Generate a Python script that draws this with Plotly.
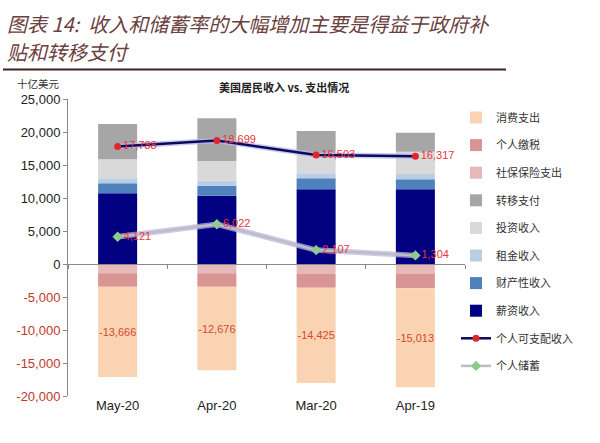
import plotly.graph_objects as go

# ---------------- data ----------------
categories = ["May-20", "Apr-20", "Mar-20", "Apr-19"]
wages = [10710, 10350, 11320, 11320]            # 薪资收入
property_income = [1520, 1510, 1670, 1510]      # 财产性收入
rent_income = [750, 760, 750, 800]              # 租金收入
investment_income = [2880, 2980, 3030, 3390]    # 投资收入
transfers = [5350, 6470, 3380, 2880]            # 转移支付
social_ins = [-1420, -1420, -1510, -1500]       # 社保保险支出
taxes = [-2020, -2020, -2080, -2170]            # 个人缴税
consumption = [-13666, -12676, -14425, -15013]  # 消费支出
disposable = [17788, 18699, 16503, 16317]       # 个人可支配收入
savings = [4121, 6022, 2107, 1304]              # 个人储蓄

ytick_vals = [-20000, -15000, -10000, -5000, 0, 5000, 10000, 15000, 20000, 25000]
ytick_text = ["-20,000", "-15,000", "-10,000", "-5,000", "0",
              "5,000", "10,000", "15,000", "20,000", "25,000"]

# ---------------- layout geometry (pixels) ----------------
W, H = 600, 443
L, R, T, B = 68, 465, 99, 396
def px(x):
    return (x - L) / (R - L)
def py(y):
    return (B - y) / (B - T)

CJK = "Noto Sans CJK SC"
ARIAL = "Liberation Sans, Arial"

fig = go.Figure()

bars = [
    ("薪资收入", wages, "#000080", 8),
    ("财产性收入", property_income, "#4F81BD", 7),
    ("租金收入", rent_income, "#B9CDE5", 6),
    ("投资收入", investment_income, "#D9D9D9", 5),
    ("转移支付", transfers, "#A6A6A6", 4),
    ("社保保险支出", social_ins, "#E6B9B8", 3),
    ("个人缴税", taxes, "#D99594", 2),
]
for name, vals, col, rank in bars:
    fig.add_trace(go.Bar(x=categories, y=vals, name=name, marker_color=col,
                         marker_line_width=0, legendrank=rank, legendgroup=name))

fig.add_trace(go.Bar(
    x=categories, y=consumption, name="消费支出", marker_color="#FAD3B3",
    marker_line_width=0, legendrank=1, legendgroup="消费支出",
    text=[f"{v:,}" for v in consumption], textposition="inside",
    insidetextanchor="middle", textangle=0, constraintext="none",
    textfont=dict(family=ARIAL, size=11, color="#D5492F")))

# soft glow under the lines
for vals in (disposable, savings):
    fig.add_trace(go.Scatter(x=categories, y=vals, mode="lines", showlegend=False,
                             hoverinfo="skip",
                             line=dict(color="rgba(190,180,235,0.75)", width=5.5)))

fig.add_trace(go.Scatter(
    x=categories, y=disposable, name="个人可支配收入", mode="lines+markers+text",
    line=dict(color="#0A0A5C", width=2.5),
    marker=dict(color="#E0262A", size=7, symbol="circle"),
    text=[f"{v:,}" for v in disposable], textposition="middle right",
    textfont=dict(family=ARIAL, size=11, color="#E8363A"),
    legendrank=9, legendgroup="dpi"))

fig.add_trace(go.Scatter(
    x=categories, y=savings, name="个人储蓄", mode="lines+markers+text",
    line=dict(color="#BEBEBE", width=2.5),
    marker=dict(color="#8CCB8C", size=8, symbol="diamond"),
    text=[f"{v:,}" for v in savings], textposition="middle right",
    textfont=dict(family=ARIAL, size=11, color="#E8363A"),
    legendrank=10, legendgroup="sav"))

fig.update_layout(
    width=W, height=H,
    margin=dict(l=L, r=W - R, t=T, b=H - B),
    paper_bgcolor="white", plot_bgcolor="white",
    barmode="relative", bargap=0.607,
    showlegend=True,
    legend=dict(x=px(456), y=py(103), xanchor="left", yanchor="top",
                font=dict(family=CJK, size=11, color="#333333"),
                traceorder="grouped", tracegroupgap=8.6,
                bgcolor="rgba(0,0,0,0)"),
    xaxis=dict(type="category", range=[-0.5, 3.5], showline=False, ticks="",
               showgrid=False, tickfont=dict(family=ARIAL, size=13, color="#222222")),
    xaxis2=dict(type="linear", overlaying="x", anchor="free", position=py(264),
                range=[-0.5, 3.5], tickvals=[-0.5, 0.5, 1.5, 2.5, 3.5],
                showticklabels=False, ticks="outside", ticklen=4, tickcolor="#888888",
                showline=True, linecolor="#888888", linewidth=1, showgrid=False,
                zeroline=False),
    yaxis=dict(range=[-20000, 25000], tickvals=ytick_vals,
               ticktext=[f"<span style='color:#C0392B'>{t}</span>" if v < 0 else t
                         for v, t in zip(ytick_vals, ytick_text)],
               showline=True, linecolor="#888888", linewidth=1,
               ticks="outside", ticklen=4, tickcolor="#888888",
               showgrid=False, zeroline=False,
               tickfont=dict(family=ARIAL, size=13, color="#222222")),
)

# dummy trace on xaxis2 so the overlay axis is drawn
fig.add_trace(go.Scatter(x=[0], y=[None], xaxis="x2", showlegend=False,
                         hoverinfo="skip", mode="markers"))

# title lines
fig.add_annotation(text="图表 14:  收入和储蓄率的大幅增加主要是得益于政府补",
                   x=px(5), y=py(23), xref="paper", yref="paper",
                   xanchor="left", yanchor="middle", showarrow=False,
                   font=dict(family=CJK, size=20, color="#6B4040", style="italic"))
fig.add_annotation(text="贴和转移支付",
                   x=px(5), y=py(51), xref="paper", yref="paper",
                   xanchor="left", yanchor="middle", showarrow=False,
                   font=dict(family=CJK, size=20, color="#6B4040", style="italic"))
fig.add_shape(type="line", xref="paper", yref="paper",
              x0=px(3), x1=px(506), y0=py(69.5), y1=py(69.5),
              line=dict(color="#3E2222", width=2))

fig.add_annotation(text="十亿美元", x=px(15), y=py(83), xref="paper", yref="paper",
                   xanchor="left", yanchor="middle", showarrow=False,
                   font=dict(family=CJK, size=10.5, color="#333333"))
fig.add_annotation(text="<b>美国居民收入 vs. 支出情况</b>", x=px(284), y=py(87),
                   xref="paper", yref="paper", xanchor="center", yanchor="middle",
                   showarrow=False, font=dict(family=CJK, size=11, color="#222222"))

fig.write_html("out.html")
